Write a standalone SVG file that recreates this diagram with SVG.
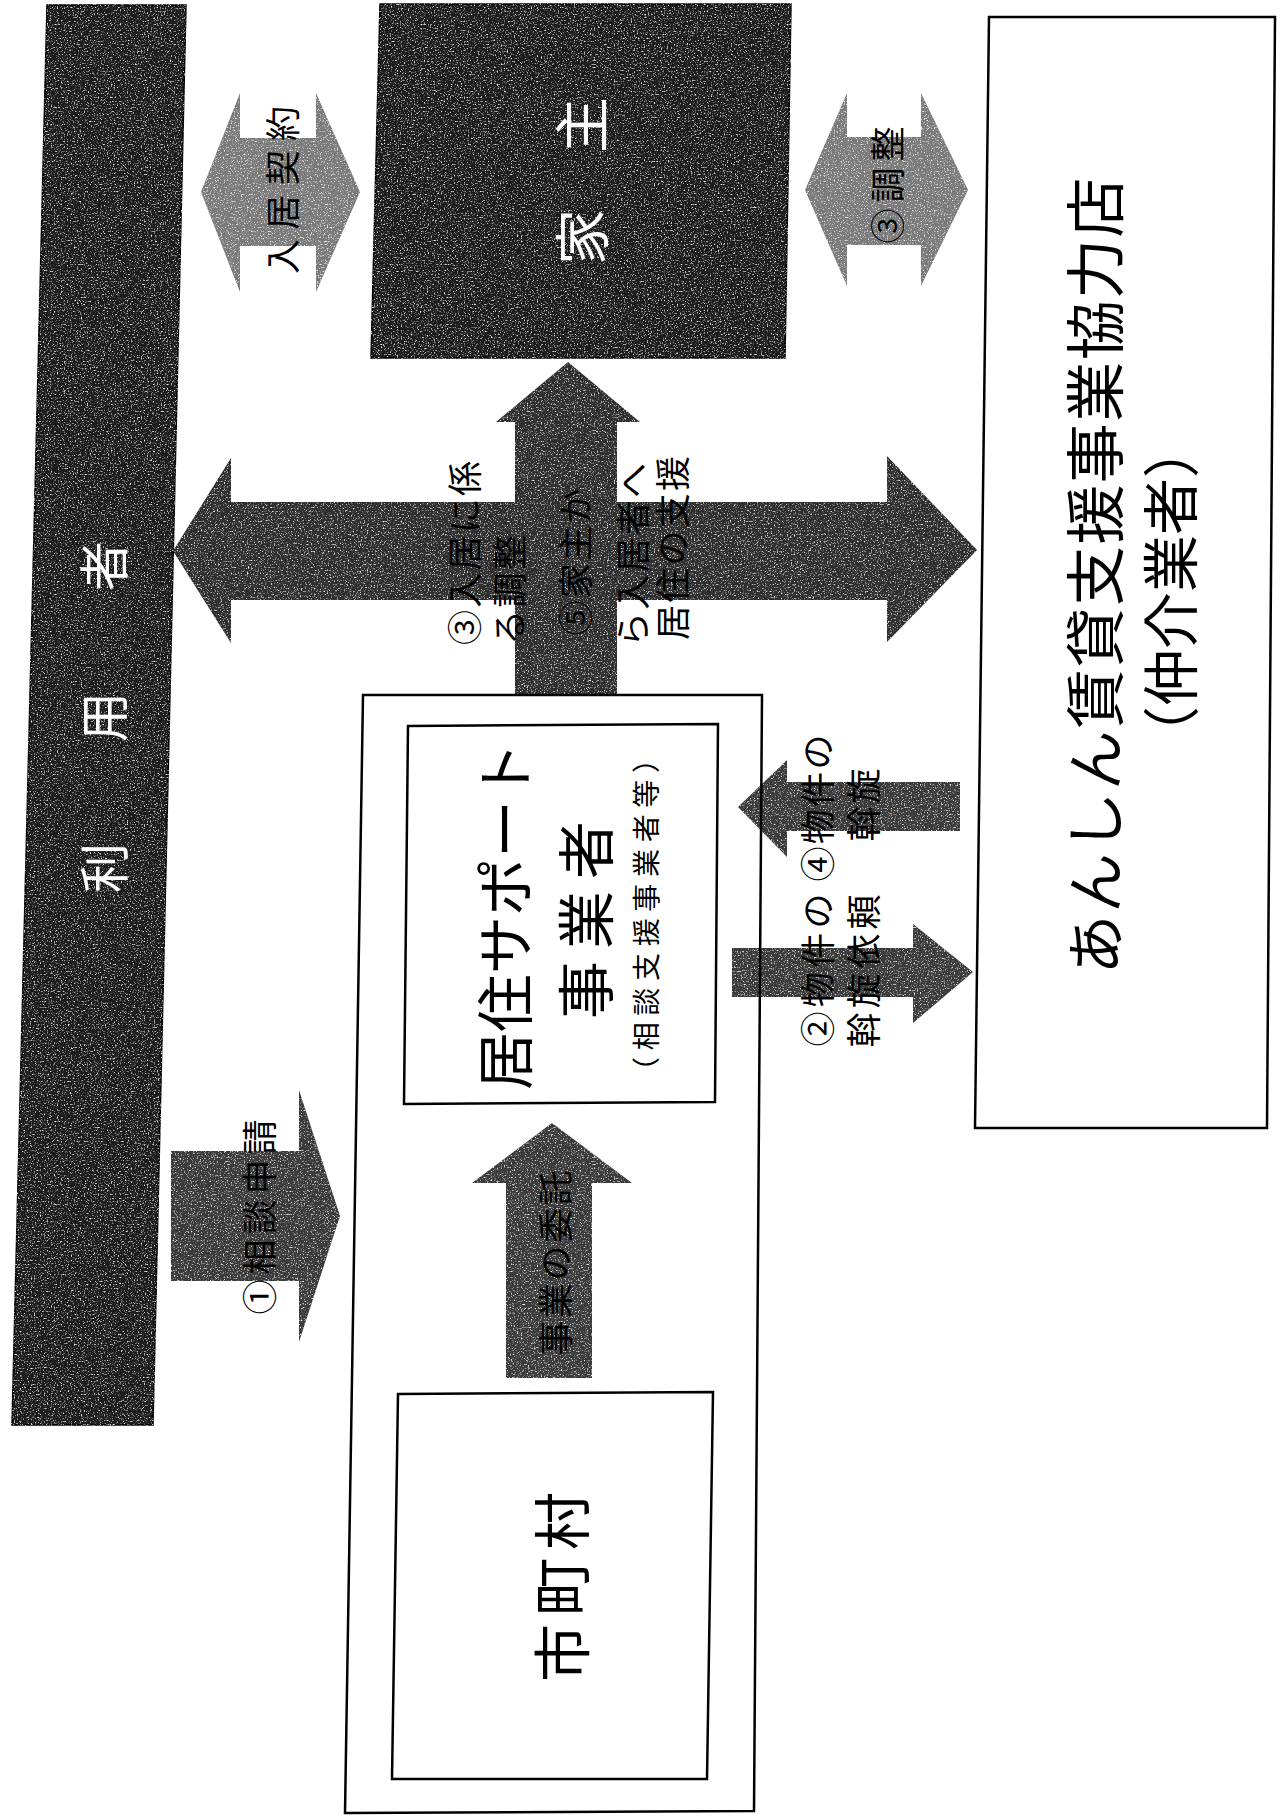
<svg xmlns="http://www.w3.org/2000/svg" width="1281" height="1816" viewBox="0 0 1281 1816">
<defs>
<filter id="grain" x="-5%" y="-5%" width="110%" height="110%" color-interpolation-filters="sRGB">
<feTurbulence type="fractalNoise" baseFrequency="0.7" numOctaves="2" seed="5" result="n"/>
<feColorMatrix in="n" type="matrix" values="0 0 0 0 1  0 0 0 0 1  0 0 0 0 1  3.5 0 0 0 -1.9" result="sp"/>
<feComposite in="sp" in2="SourceGraphic" operator="in" result="spc"/>
<feMerge><feMergeNode in="SourceGraphic"/><feMergeNode in="spc"/></feMerge>
</filter>
<style>
.t{font-family:"Noto Sans CJK JP","Noto Sans CJK SC",sans-serif;dominant-baseline:central;text-anchor:middle}
.w{fill:#fff}
.k{fill:#000}
.box{fill:#fff;stroke:#000;stroke-width:2.5}
.frame{fill:none;stroke:#000;stroke-width:2.5}
.dk{fill:#1c1c1c;stroke:#000;stroke-width:1.5;filter:url(#grain)}
.ar1{fill:#2e2e2e;filter:url(#grain)}
.ar2{fill:#3a3a3a;filter:url(#grain)}
.ar3{fill:#7a7a7a;filter:url(#grain)}
</style>
</defs>
<rect width="1281" height="1816" fill="#fff"/>

<g id="riyousha">
<polygon class="dk" points="47,5 186,5 153,1425 12,1425"/>
<text class="t w" font-size="50" textLength="352" lengthAdjust="spacing" transform="translate(101,717) rotate(-90)">利　用　者</text>
</g>

<g id="yanushi">
<polygon class="dk" points="380,4 791,4 785,358 371,358"/>
<text class="t w" font-size="56" transform="translate(578,181) rotate(-90)">家　主</text>
</g>

<g id="kyoryokuten">
<polygon class="box" points="989,17 1275,17 1267,1128 975,1128"/>
<text class="t k" font-size="60" textLength="797" lengthAdjust="spacing" transform="translate(1091,576) rotate(-90)">あんしん賃貸支援事業協力店</text>
<text class="t k" font-size="57" transform="translate(1167,592) rotate(-90)">（仲介業者）</text>
</g>

<g id="kyoju-support">
<polygon class="box" points="408,726 718,724 715,1102 404,1104"/>
<text class="t k" font-size="58" textLength="348" lengthAdjust="spacing" transform="translate(502,916) rotate(-90)">居住サポート</text>
<text class="t k" font-size="58" textLength="198" lengthAdjust="spacing" transform="translate(583,920) rotate(-90)">事業者</text>
<text class="t k" font-size="28" textLength="340" lengthAdjust="spacing" transform="translate(645,915) rotate(-90)">（相談支援事業者等）</text>
</g>

<g id="shichouson">
<polygon class="box" points="398,1394 713,1392 707,1779 392,1779"/>
<text class="t k" font-size="58" textLength="190" lengthAdjust="spacing" transform="translate(559,1587) rotate(-90)">市町村</text>
</g>

<g id="connectors">
<path id="c-keiyaku" class="ar3" d="M201,192 L240,93 L240,138 L316,138 L316,93 L360,192 L316,292 L316,246 L240,246 L240,292 Z"/>
<text class="t k" font-size="35" textLength="168" lengthAdjust="spacing" transform="translate(280,190) rotate(-90)">入居契約</text>

<path id="c-chousei" class="ar3" d="M805,190 L847,93 L847,137 L921,137 L921,93 L968,190 L921,286 L921,245 L847,245 L847,286 Z"/>
<text class="t k" font-size="35" textLength="117" lengthAdjust="spacing" transform="translate(885,185) rotate(-90)">③調整</text>

<path id="c-cross" class="ar1" d="M173,551 L231,458 L231,502 L515,502 L515,422 L496,422 L568,362 L640,422 L617,422 L617,502 L887,502 L887,456 L977,550 L887,642 L887,600 L617,600 L617,695 L515,695 L515,600 L231,600 L231,643 Z"/>
<text class="t k" font-size="35" textLength="184" lengthAdjust="spacing" transform="translate(462,553) rotate(-90)">③入居に係</text>
<text class="t k" font-size="35" textLength="110" lengthAdjust="spacing" transform="translate(507,590) rotate(-90)">る調整</text>
<text class="t k" font-size="35" textLength="147" lengthAdjust="spacing" transform="translate(573,562) rotate(-90)">⑤家主か</text>
<text class="t k" font-size="35" textLength="184" lengthAdjust="spacing" transform="translate(630,555) rotate(-90)">ら入居者へ</text>
<text class="t k" font-size="35" textLength="184" lengthAdjust="spacing" transform="translate(670,548) rotate(-90)">居住の支援</text>

<path id="c-shinsei" class="ar2" d="M171,1151 L299,1151 L299,1090 L340,1216 L299,1342 L299,1281 L171,1281 Z"/>
<text class="t k" font-size="35" textLength="195" lengthAdjust="spacing" transform="translate(257,1217) rotate(-90)">①相談申請</text>

<path id="c-itaku" class="ar2" d="M506,1378 L506,1183 L472,1183 L552,1123 L632,1183 L592,1183 L592,1378 Z"/>
<text class="t k" font-size="35" textLength="185" lengthAdjust="spacing" transform="translate(553,1263) rotate(-90)">事業の委託</text>

<path id="c-irai" class="ar2" d="M732,948 L913,948 L913,924 L973,972 L913,1023 L913,997 L732,997 Z"/>
<text class="t k" font-size="35" textLength="153" lengthAdjust="spacing" transform="translate(815,970) rotate(-90)">②物件の</text>
<text class="t k" font-size="35" textLength="153" lengthAdjust="spacing" transform="translate(861,971) rotate(-90)">斡旋依頼</text>

<path id="c-assen" class="ar2" d="M960,782 L787,782 L787,760 L738,807 L787,857 L787,831 L960,831 Z"/>
<text class="t k" font-size="35" textLength="147" lengthAdjust="spacing" transform="translate(815,808) rotate(-90)">④物件の</text>
<text class="t k" font-size="35" textLength="73" lengthAdjust="spacing" transform="translate(861,805) rotate(-90)">斡旋</text>
</g>

<g id="kyoju-support-area">
<polygon class="frame" points="363,695 762,695 754,1811 345,1813"/>
</g>
</svg>
